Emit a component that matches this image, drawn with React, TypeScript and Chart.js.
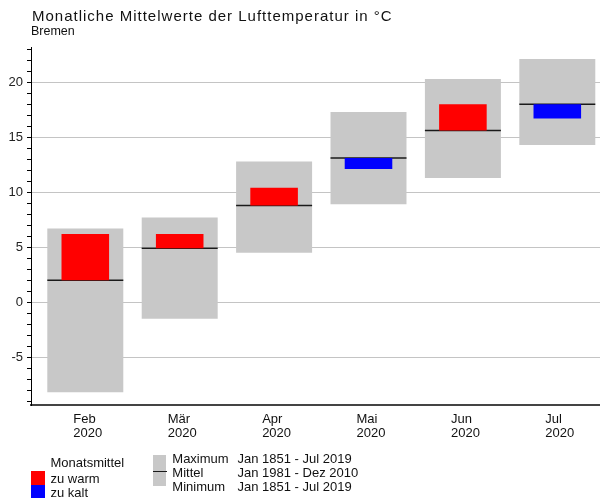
import React, { useEffect, useRef } from "react";
import { Chart, registerables } from "chart.js";

Chart.register(...registerables);

const categories = ["Feb", "Mär", "Apr", "Mai", "Jun", "Jul"];
const years = ["2020", "2020", "2020", "2020", "2020", "2020"];
const maxValues = [6.7, 7.7, 12.8, 17.3, 20.3, 22.1];
const minValues = [-8.2, -1.5, 4.5, 8.9, 11.3, 14.3];
const meanValues = [2.0, 4.9, 8.8, 13.1, 15.6, 18.0];
const monthValues = [6.2, 6.2, 10.4, 12.1, 18.0, 16.7];

const FONT = '"Liberation Sans", Arial, sans-serif';

const meanLinePlugin = {
  id: "meanLines",
  afterDatasetDraw(chart: any, args: any) {
    if (args.index !== 0) return;
    const ctx = chart.ctx;
    const ys = chart.scales.y;
    ctx.save();
    ctx.strokeStyle = "#1a1a1a";
    ctx.lineWidth = 1.5;
    args.meta.data.forEach((bar: any, i: number) => {
      const { x, width } = bar.getProps(["x", "width"], true);
      const y = ys.getPixelForValue(meanValues[i]);
      ctx.beginPath();
      ctx.moveTo(x - width / 2, y);
      ctx.lineTo(x + width / 2, y);
      ctx.stroke();
    });
    ctx.restore();
  },
};

const xLabelPlugin = {
  id: "xLabels",
  afterDraw(chart: any) {
    const ctx = chart.ctx;
    const xs = chart.scales.x;
    const bottom = chart.chartArea.bottom;
    ctx.save();
    ctx.font = `13px ${FONT}`;
    ctx.fillStyle = "#111";
    ctx.textAlign = "left";
    ctx.textBaseline = "alphabetic";
    categories.forEach((c, i) => {
      const lines = [c, years[i]];
      const w = Math.max(...lines.map((l) => ctx.measureText(l).width));
      const left = xs.getPixelForValue(i) - w / 2 + 2.5;
      lines.forEach((l, k) => ctx.fillText(l, left, bottom + 18.3 + k * 13.4));
    });
    ctx.restore();
  },
};

export default function App() {
  const ref = useRef<HTMLCanvasElement | null>(null);

  useEffect(() => {
    if (!ref.current) return;
    const chart = new Chart(ref.current, {
      type: "bar",
      data: {
        datasets: [
          {
            label: "Extrembereich",
            data: categories.map((_, i) => ({ x: i, y: [minValues[i], maxValues[i]] })) as any,
            backgroundColor: "#c8c8c8",
            borderWidth: 0,
            barPercentage: 0.805,
            categoryPercentage: 1,
            grouped: false,
            order: 2,
          },
          {
            label: "Monatsmittel",
            data: categories.map((_, i) => ({ x: i, y: [meanValues[i], monthValues[i]] })) as any,
            backgroundColor: categories.map((_, i) =>
              monthValues[i] > meanValues[i] ? "#ff0000" : "#0000ff"
            ),
            borderWidth: 0,
            barPercentage: 0.504,
            categoryPercentage: 1,
            grouped: false,
            order: 1,
          },
        ],
      },
      options: {
        responsive: false,
        animation: false,
        devicePixelRatio: 1,
        layout: { padding: { top: 47, left: 0, right: 0, bottom: 0 } },
        plugins: {
          legend: { display: false },
          tooltip: { enabled: false },
          title: { display: false },
        },
        scales: {
          x: {
            type: "linear",
            display: true,
            offset: false,
            min: -0.5752,
            max: 5.4523,
            afterFit: (s: any) => {
              s.height = 93;
            },
            ticks: { display: false, stepSize: 1, includeBounds: false },
            grid: { display: false, offset: false },
            border: { display: true, color: "#444", width: 2 },
          },
          y: {
            min: -9.35,
            max: 23.2,
            afterFit: (s: any) => {
              s.width = 31;
            },
            ticks: {
              stepSize: 1,
              includeBounds: false,
              autoSkip: false,
              padding: 4,
              color: "#222",
              font: { family: FONT, size: 13 },
              callback: (v: any) => (Math.round(v) % 5 === 0 ? String(Math.round(v)) : ""),
            },
            grid: {
              color: (c: any) =>
                c.tick && Math.round(c.tick.value) % 5 === 0 ? "#c4c4c4" : "rgba(0,0,0,0)",
              tickColor: "#000",
              tickLength: 4,
              lineWidth: 1,
            },
            border: { display: true, color: "#000", width: 1 },
          },
        },
      } as any,
      plugins: [meanLinePlugin, xLabelPlugin],
    });
    return () => chart.destroy();
  }, []);

  const txt = (
    content: string,
    left: number,
    baseline: number,
    size: number,
    extra: React.CSSProperties = {}
  ) => (
    <div
      style={{
        position: "absolute",
        left,
        top: baseline - 0.8465 * size,
        fontFamily: FONT,
        fontSize: size,
        lineHeight: `${size}px`,
        color: "#111",
        whiteSpace: "pre",
        ...extra,
      }}
    >
      {content}
    </div>
  );

  return (
    <div
      style={{
        position: "fixed",
        left: 0,
        top: 0,
        width: 600,
        height: 498,
        overflow: "hidden",
        background: "#fff",
      }}
    >
      <canvas ref={ref} width={600} height={498} style={{ display: "block" }} />
      {txt("Monatliche Mittelwerte der Lufttemperatur in °C", 32, 20.7, 15, { letterSpacing: "1px" })}
      {txt("Bremen", 31, 35.7, 12.5)}
      {txt("Monatsmittel", 50.5, 466.6, 13)}
      <div style={{ position: "absolute", left: 31, top: 471, width: 14, height: 14, background: "#ff0000" }} />
      <div style={{ position: "absolute", left: 31, top: 485, width: 14, height: 14, background: "#0000ff" }} />
      {txt("zu warm", 50.5, 482.6, 13)}
      {txt("zu kalt", 50.5, 496.6, 13)}
      <div style={{ position: "absolute", left: 153, top: 455, width: 13, height: 31, background: "#c8c8c8" }} />
      <div style={{ position: "absolute", left: 153, top: 470.5, width: 14, height: 1.5, background: "#1a1a1a" }} />
      {txt("Maximum", 172.3, 462.7, 13)}
      {txt("Mittel", 172.3, 476.7, 13)}
      {txt("Minimum", 172.3, 490.7, 13)}
      {txt("Jan 1851 - Jul 2019", 237.5, 462.7, 13)}
      {txt("Jan 1981 - Dez 2010", 237.5, 476.7, 13)}
      {txt("Jan 1851 - Jul 2019", 237.5, 490.7, 13)}
    </div>
  );
}
